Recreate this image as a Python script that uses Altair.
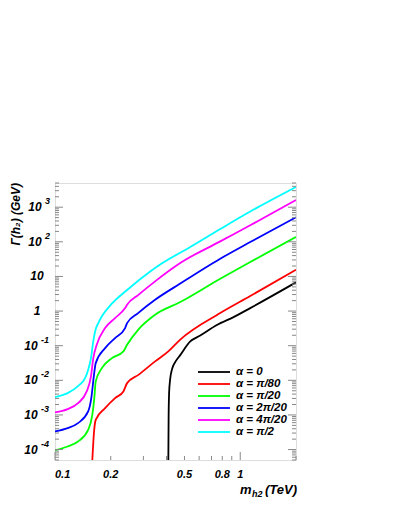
import altair as alt
import pandas as pd

# ---------------- data ----------------
labels = ["α = 0", "α = π/80", "α = π/20", "α = 2π/20", "α = 4π/20", "α = π/2"]
colors = ["#000000", "#ff0000", "#00ff00", "#0000ff", "#ff00ff", "#00ffff"]

x_a0 = [0.409, 0.4105, 0.413, 0.4185, 0.4285, 0.4454, 0.4742, 0.5373, 0.6081, 0.748, 0.92, 1.132, 2.0]
y_a0 = [4e-5, 8.1e-4, 4.27e-3, 0.0108, 0.0211, 0.0336, 0.0535, 0.133, 0.196, 0.394, 0.671, 1.22, 6.75]

x_a1 = [0.1587, 0.1625, 0.1659, 0.1864, 0.211, 0.234, 0.245, 0.282, 0.347, 0.409, 0.4742, 0.7798, 1.132, 2.0]
y_a1 = [4e-5, 3.33e-4, 7.2e-4, 1.57e-3, 3.06e-3, 4.78e-3, 8.3e-3, 0.0144, 0.0352, 0.0685, 0.15, 0.875, 2.71, 15.6]

x_a2 = [0.1, 0.117, 0.1331, 0.151, 0.159, 0.163, 0.1659, 0.179, 0.203, 0.234, 0.245, 0.281, 0.347, 0.4742, 0.7798, 1.132, 2.0]
y_a2 = [9.6e-5, 1.23e-4, 1.71e-4, 3.71e-4, 1.0e-3, 3.06e-3, 9.3e-3, 0.0225, 0.0438, 0.0685, 0.106, 0.288, 0.782, 1.82, 8.58, 26.1, 138]

x_a3 = [0.1, 0.117, 0.1331, 0.151, 0.157, 0.162, 0.1659, 0.1864, 0.211, 0.239, 0.245, 0.281, 0.347, 0.4742, 0.7798, 1.132, 2.0]
y_a3 = [3.33e-4, 4.15e-4, 5.79e-4, 1.26e-3, 3.06e-3, 0.0130, 0.0314, 0.0853, 0.166, 0.323, 0.450, 0.875, 2.12, 6.23, 32.5, 98.7, 511]

x_a4 = [0.1, 0.117, 0.1331, 0.1483, 0.1564, 0.161, 0.168, 0.1864, 0.211, 0.239, 0.245, 0.281, 0.347, 0.4742, 0.7798, 1.132, 2.0]
y_a4 = [0.00118, 0.00147, 0.00219, 0.00478, 0.0130, 0.0438, 0.106, 0.323, 0.628, 1.22, 1.52, 2.90, 7.22, 24.4, 103, 300, 1615]

x_a5 = [0.1, 0.117, 0.1331, 0.1453, 0.1508, 0.1564, 0.161, 0.1659, 0.1713, 0.1795, 0.1983, 0.245, 0.3265, 0.3696, 0.5373, 0.7798, 1.132, 2.0]
y_a5 = [0.00327, 0.00426, 0.0068, 0.0116, 0.0197, 0.0438, 0.136, 0.302, 0.450, 0.717, 1.44, 4.05, 13.9, 22.1, 70.8, 234, 751, 3837]

series = [
    (labels[0], x_a0, y_a0),
    (labels[1], x_a1, y_a1),
    (labels[2], x_a2, y_a2),
    (labels[3], x_a3, y_a3),
    (labels[4], x_a4, y_a4),
    (labels[5], x_a5, y_a5),
]

x_major = [0.1, 1.0]
x_minor = [0.2, 0.3, 0.4, 0.5, 0.6, 0.7, 0.8, 0.9, 2.0]
x_lab_center = [0.2, 0.5, 0.8, 1.0]
x_lab_center_txt = ["0.2", "0.5", "0.8", "1"]
x_lab_left = [0.1]
x_lab_left_txt = ["0.1"]

y_major = [1e-4, 1e-3, 1e-2, 1e-1, 1, 10, 100, 1000]
y_minor = [m * d for d in [1e-5, 1e-4, 1e-3, 1e-2, 1e-1, 1, 10, 100, 1000]
           for m in range(2, 10) if 5e-5 <= m * d <= 5e3]

y_plain_vals = [10, 1]
y_plain_txt = ["10", "1"]
y_e1_vals = [1000, 100]
y_e1_exp = ["3", "2"]
y_e2_vals = [0.1, 0.01, 0.001, 0.0001]
y_e2_exp = ["-1", "-2", "-3", "-4"]

# ---------------- chart ----------------
rows = []
for lab, xs, ys in series:
    for xv, yv in zip(xs, ys):
        rows.append({"series": lab, "m": xv, "w": yv})
df = pd.DataFrame(rows)

W, H = 241, 277
FONT = "Liberation Sans"
TICK = "#888888"

xs_ = alt.Scale(type="log", domain=[0.1, 2.0], nice=False)
ys_ = alt.Scale(type="log", domain=[5e-5, 5e3], nice=False)
cs_ = alt.Scale(domain=labels, range=colors)

lines = alt.Chart(df).mark_line(strokeWidth=1.8, clip=True, interpolate="monotone").encode(
    x=alt.X("m:Q", scale=xs_, axis=None),
    y=alt.Y("w:Q", scale=ys_, axis=None),
    color=alt.Color("series:N", scale=cs_, legend=None),
    detail="series:N",
)

def yticks(vals, L):
    d = pd.DataFrame({"v": vals})
    left = alt.Chart(d).mark_rule(color=TICK, strokeWidth=1).encode(
        y=alt.Y("v:Q", scale=ys_, axis=None), x=alt.value(0), x2=alt.value(L))
    right = alt.Chart(d).mark_rule(color=TICK, strokeWidth=1).encode(
        y=alt.Y("v:Q", scale=ys_, axis=None), x=alt.value(W), x2=alt.value(W - L))
    return [left, right]

def xticks(vals, L):
    d = pd.DataFrame({"v": vals})
    return [alt.Chart(d).mark_rule(color=TICK, strokeWidth=1).encode(
        x=alt.X("v:Q", scale=xs_, axis=None), y=alt.value(H), y2=alt.value(H - L))]

tfont = dict(font=FONT, fontStyle="italic", fontWeight="bold", color="black")

xl_c = alt.Chart(pd.DataFrame({"v": x_lab_center, "t": x_lab_center_txt})).mark_text(
    align="center", baseline="middle", fontSize=11, **tfont).encode(
    x=alt.X("v:Q", scale=xs_, axis=None), y=alt.value(H + 15), text="t:N")
xl_l = alt.Chart(pd.DataFrame({"v": x_lab_left, "t": x_lab_left_txt})).mark_text(
    align="left", baseline="middle", fontSize=11, **tfont).encode(
    x=alt.X("v:Q", scale=xs_, axis=None), y=alt.value(H + 15), text="t:N")

yl_p = alt.Chart(pd.DataFrame({"v": y_plain_vals, "t": y_plain_txt})).mark_text(
    align="center", baseline="middle", fontSize=12, **tfont).encode(
    y=alt.Y("v:Q", scale=ys_, axis=None), x=alt.value(-18), text="t:N")
yl_1b = alt.Chart(pd.DataFrame({"v": y_e1_vals, "t": ["10"] * len(y_e1_vals)})).mark_text(
    align="center", baseline="middle", fontSize=12, **tfont).encode(
    y=alt.Y("v:Q", scale=ys_, axis=None), x=alt.value(-20), text="t:N")
yl_1e = alt.Chart(pd.DataFrame({"v": y_e1_vals, "t": y_e1_exp})).mark_text(
    align="left", baseline="middle", fontSize=9, dy=-6, **tfont).encode(
    y=alt.Y("v:Q", scale=ys_, axis=None), x=alt.value(-10), text="t:N")
yl_2b = alt.Chart(pd.DataFrame({"v": y_e2_vals, "t": ["10"] * len(y_e2_vals)})).mark_text(
    align="center", baseline="middle", fontSize=12, **tfont).encode(
    y=alt.Y("v:Q", scale=ys_, axis=None), x=alt.value(-24), text="t:N")
yl_2e = alt.Chart(pd.DataFrame({"v": y_e2_vals, "t": y_e2_exp})).mark_text(
    align="left", baseline="middle", fontSize=9, dy=-6, **tfont).encode(
    y=alt.Y("v:Q", scale=ys_, axis=None), x=alt.value(-14), text="t:N")

# titles
ytitle = alt.Chart(pd.DataFrame({"t": ["Γ(h₂) (GeV)"]})).mark_text(
    align="right", baseline="middle", angle=270, fontSize=12, **tfont).encode(
    x=alt.value(-39), y=alt.value(0), text="t:N")
xt_m = alt.Chart(pd.DataFrame({"t": ["m"]})).mark_text(
    align="left", baseline="middle", fontSize=13, **tfont).encode(
    x=alt.value(185), y=alt.value(H + 30), text="t:N")
xt_s = alt.Chart(pd.DataFrame({"t": ["h2"]})).mark_text(
    align="left", baseline="middle", fontSize=9, **tfont).encode(
    x=alt.value(197), y=alt.value(H + 34), text="t:N")
xt_u = alt.Chart(pd.DataFrame({"t": ["(TeV)"]})).mark_text(
    align="right", baseline="middle", fontSize=13, **tfont).encode(
    x=alt.value(242), y=alt.value(H + 30), text="t:N")

# legend
leg_df = pd.DataFrame({"series": labels, "row": list(range(len(labels)))})
leg_y = alt.Scale(type="point", domain=list(range(len(labels))), range=[189, 249], padding=0)
leg_rule = alt.Chart(leg_df).mark_rule(strokeWidth=1.8).encode(
    y=alt.Y("row:O", scale=leg_y, axis=None), x=alt.value(143), x2=alt.value(175),
    color=alt.Color("series:N", scale=cs_, legend=None))
leg_text = alt.Chart(leg_df).mark_text(
    align="left", baseline="middle", fontSize=11.5, **tfont).encode(
    y=alt.Y("row:O", scale=leg_y, axis=None), x=alt.value(181), text="series:N")

layers = ([lines] + yticks(y_major, 8) + yticks(y_minor, 4) + xticks(x_major, 8) + xticks(x_minor, 4)
          + [xl_c, xl_l, yl_p, yl_1b, yl_1e, yl_2b, yl_2e, ytitle, xt_m, xt_s, xt_u, leg_rule, leg_text])

chart = alt.layer(*layers).resolve_scale(y="independent", x="independent").properties(
    width=W, height=H,
    autosize=alt.AutoSizeParams(type="none"),
    padding={"left": 47, "top": 175, "right": 95, "bottom": 48},
).configure_view(stroke="#999999", strokeWidth=1).configure(background="white")

chart.save("out.html", embed_options={"renderer": "svg", "actions": False})
